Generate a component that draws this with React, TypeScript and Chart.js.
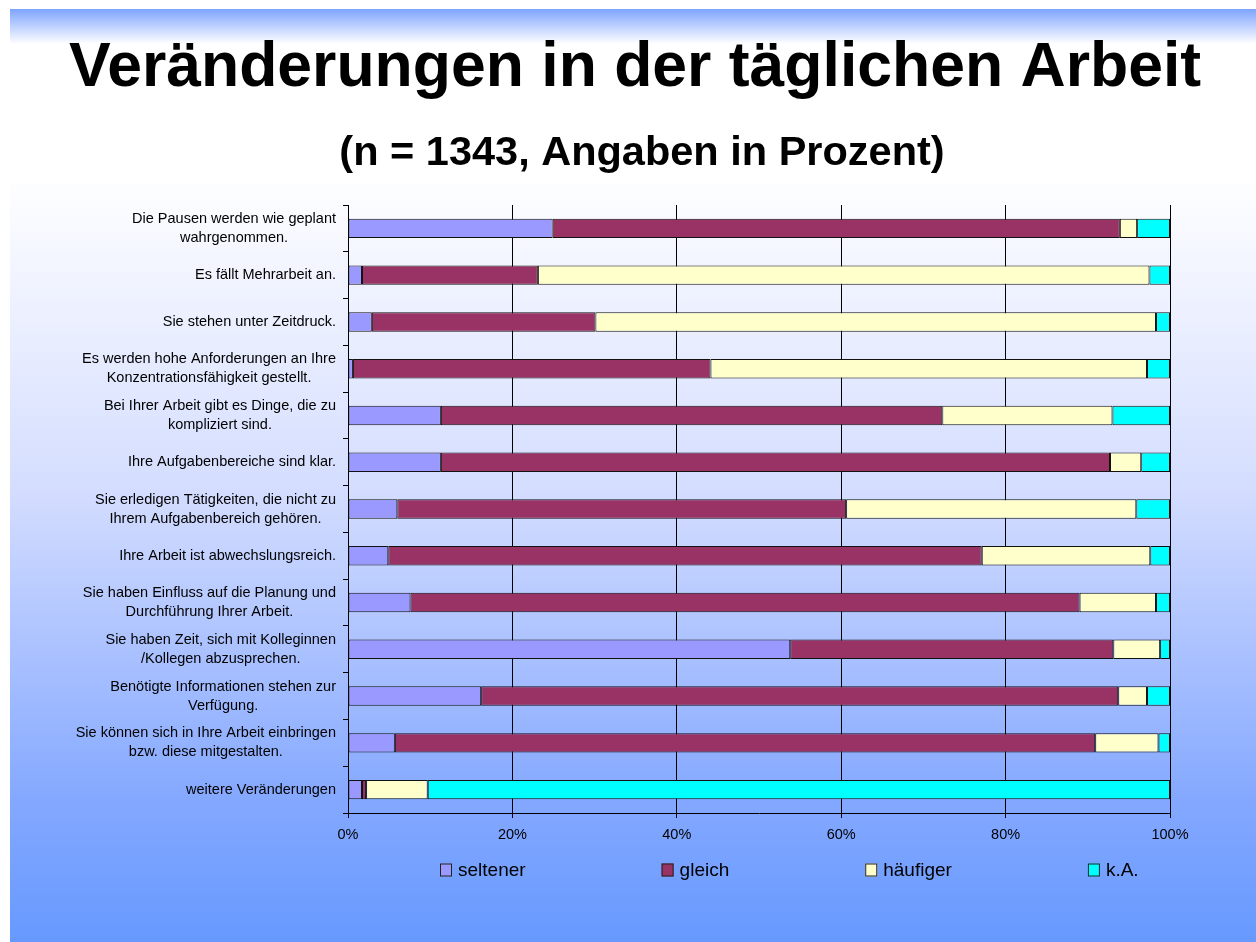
import React, { useEffect, useRef } from 'react';
import { Chart, registerables } from 'chart.js';

Chart.register(...registerables);

const categories: string[][] = [
  ['Die Pausen werden wie geplant', 'wahrgenommen.'],
  ['Es fällt Mehrarbeit an.'],
  ['Sie stehen unter Zeitdruck.'],
  ['Es werden hohe Anforderungen an Ihre', 'Konzentrationsfähigkeit gestellt.'],
  ['Bei Ihrer Arbeit gibt es Dinge, die zu', 'kompliziert sind.'],
  ['Ihre Aufgabenbereiche sind klar.'],
  ['Sie erledigen Tätigkeiten, die nicht zu', 'Ihrem Aufgabenbereich gehören.'],
  ['Ihre Arbeit ist abwechslungsreich.'],
  ['Sie haben Einfluss auf die Planung und', 'Durchführung Ihrer Arbeit.'],
  ['Sie haben Zeit, sich mit Kolleginnen', '/Kollegen abzusprechen.'],
  ['Benötigte Informationen stehen zur', 'Verfügung.'],
  ['Sie können sich in Ihre Arbeit einbringen', 'bzw. diese mitgestalten.'],
  ['weitere Veränderungen'],
];

const seriesNames: string[] = ['seltener', 'gleich', 'häufiger', 'k.A.'];

const seltener: number[] = [24.9, 1.7, 2.9, 0.6, 11.3, 11.3, 6.0, 4.9, 7.6, 53.8, 16.2, 5.7, 1.7];
const gleich: number[] = [69.0, 21.4, 27.2, 43.5, 61.0, 81.4, 54.6, 72.2, 81.4, 39.3, 77.5, 85.2, 0.5];
const haeufiger: number[] = [2.1, 74.4, 68.2, 53.1, 20.7, 3.8, 35.3, 20.5, 9.3, 5.7, 3.5, 7.7, 7.5];
const keineAngabe: number[] = [4.0, 2.5, 1.7, 2.8, 7.0, 3.5, 4.1, 2.4, 1.7, 1.2, 2.8, 1.4, 90.3];

const xTicks: number[] = [0, 20, 40, 60, 80, 100];

const titleText = 'Veränderungen in der täglichen Arbeit';
const subtitleText = '(n = 1343, Angaben in Prozent)';

const seriesColors = ['#9999FF', '#993366', '#FFFFCC', '#00FFFF'];
const FONT = '"Liberation Sans", Arial, Helvetica, sans-serif';

export default function App() {
  const ref = useRef<HTMLCanvasElement>(null);

  useEffect(() => {
    if (!ref.current) return;

    const bgPlugin = {
      id: 'bgPlugin',
      beforeDraw(chart: any) {
        const ctx = chart.ctx as CanvasRenderingContext2D;
        const W = chart.width;
        const H = chart.height;
        ctx.save();
        ctx.fillStyle = '#ffffff';
        ctx.fillRect(0, 0, W, H);
        const top = 9;
        const g = ctx.createLinearGradient(0, top, 0, H);
        const f = (y: number) => (y - top) / (H - top);
        g.addColorStop(0, '#7ea4ff');
        g.addColorStop(f(44), '#ffffff');
        g.addColorStop(f(175), '#ffffff');
        g.addColorStop(f(490), '#d4ddff');
        g.addColorStop(f(800), '#84a8ff');
        g.addColorStop(1, '#6699ff');
        ctx.fillStyle = g;
        ctx.fillRect(10, top, W - 10, H - top);

        ctx.fillStyle = '#000';
        ctx.textAlign = 'center';
        ctx.textBaseline = 'alphabetic';
        ctx.font = `bold 62.5px ${FONT}`;
        ctx.fillText(titleText, 635, 86);
        ctx.font = `bold 41.5px ${FONT}`;
        ctx.fillText(subtitleText, 642, 165);
        ctx.restore();
      },
    };

    const labelPlugin = {
      id: 'labelPlugin',
      afterDraw(chart: any) {
        const ctx = chart.ctx as CanvasRenderingContext2D;
        const yScale = chart.scales.y;
        ctx.save();
        ctx.fillStyle = '#000';
        ctx.font = `14.5px ${FONT}`;
        ctx.textBaseline = 'middle';
        ctx.textAlign = 'center';
        const rightEdge = 336;
        const lh = 19;
        categories.forEach((lines, i) => {
          const cy = yScale.getPixelForValue(i);
          const maxW = Math.max(...lines.map((l) => ctx.measureText(l).width));
          const cx = rightEdge - maxW / 2;
          const y0 = cy - ((lines.length - 1) * lh) / 2;
          lines.forEach((l, j) => ctx.fillText(l, cx, y0 + j * lh));
        });

        // legend
        ctx.font = `19px ${FONT}`;
        ctx.textAlign = 'left';
        let x = 440;
        const ly = 870;
        seriesNames.forEach((name, i) => {
          ctx.fillStyle = seriesColors[i];
          ctx.fillRect(x, ly - 6.5, 12, 13);
          ctx.strokeStyle = '#222';
          ctx.lineWidth = 1;
          ctx.strokeRect(x + 0.5, ly - 6, 11, 12);
          ctx.fillStyle = '#000';
          ctx.fillText(name, x + 18, ly + 1);
          x += 18 + ctx.measureText(name).width + 136;
        });
        ctx.restore();
      },
    };

    const datasets = [seltener, gleich, haeufiger, keineAngabe].map((d, i) => ({
      label: seriesNames[i],
      data: d,
      backgroundColor: seriesColors[i],
      borderColor: '#111',
      borderWidth: 1,
      borderSkipped: false,
      categoryPercentage: 1,
      barPercentage: 0.415,
    }));

    const chart = new Chart(ref.current, {
      type: 'bar',
      data: {
        labels: categories.map((c) => c.join(' ')),
        datasets,
      },
      options: {
        indexAxis: 'y',
        responsive: false,
        animation: false,
        devicePixelRatio: 1,
        layout: { padding: { top: 205, bottom: 89, left: 0, right: 86 } },
        plugins: {
          legend: { display: false },
          title: { display: false },
          tooltip: { enabled: false },
        },
        scales: {
          x: {
            stacked: true,
            min: 0,
            max: 100,
            afterBuildTicks: (s: any) => {
              s.ticks = xTicks.map((v) => ({ value: v }));
            },
            ticks: {
              callback: (v: any) => `${v}%`,
              color: '#000',
              font: { family: FONT, size: 14.5 },
              padding: 8,
              maxRotation: 0,
            },
            grid: { color: '#000', lineWidth: 1, tickLength: 5, drawTicks: true },
            border: { color: '#000', width: 1 },
            afterFit: (s: any) => {
              s.height = 40;
            },
          },
          y: {
            stacked: true,
            ticks: { display: false },
            grid: { drawOnChartArea: false, color: '#000', tickLength: 5, offset: true },
            border: { color: '#000', width: 1 },
            afterFit: (s: any) => {
              s.width = 348;
            },
          },
        },
      },
      plugins: [bgPlugin, labelPlugin],
    } as any);

    return () => chart.destroy();
  }, []);

  return (
    <div style={{ position: 'absolute', left: 0, top: 0, width: 1256, height: 942 }}>
      <canvas ref={ref} width={1256} height={942} style={{ display: 'block' }} />
    </div>
  );
}
